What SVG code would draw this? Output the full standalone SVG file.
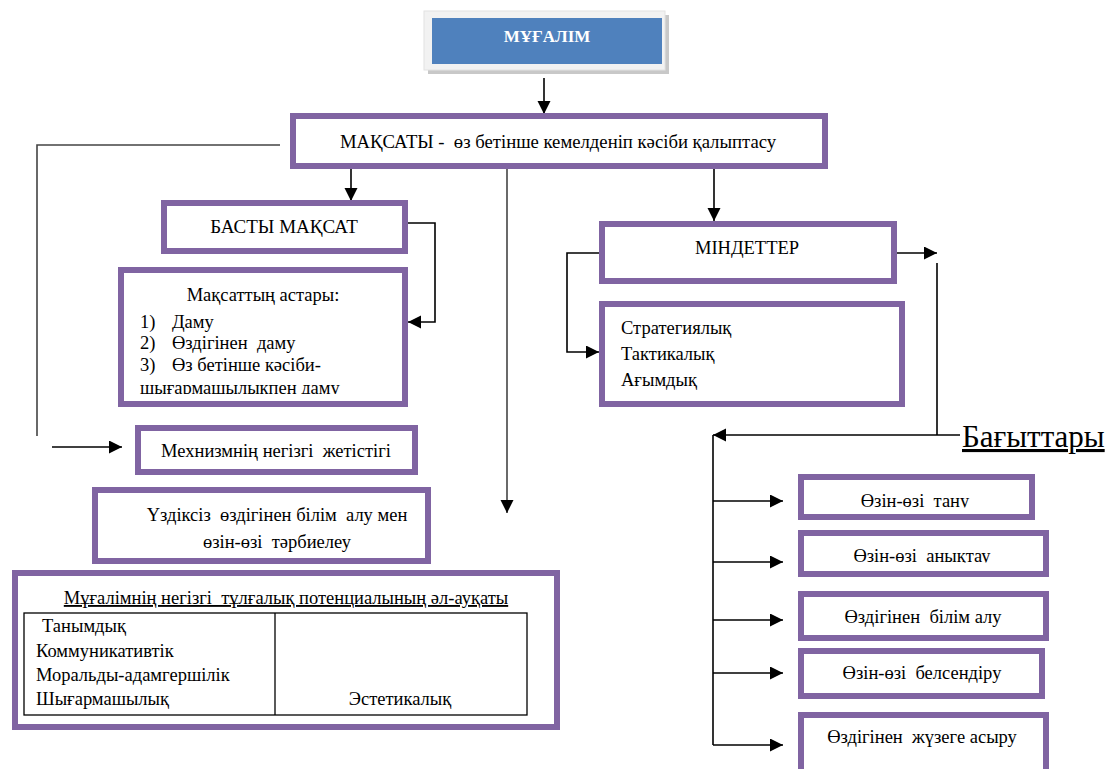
<svg xmlns="http://www.w3.org/2000/svg" width="1110" height="769" viewBox="0 0 1110 769" xml:space="preserve">
<style>
.bg{fill:#ffffff}
.box{fill:#ffffff;stroke:#8064a2;stroke-width:6}
.t{font-family:"Liberation Serif","DejaVu Serif",serif;font-size:18.5px;fill:#000000;white-space:pre}
.c{text-anchor:middle}
.ln{fill:none;stroke:#000000;stroke-width:1.6}
.lg{fill:none;stroke:#444444;stroke-width:1.6}
.arr{marker-end:url(#ah)}
.tbl{fill:none;stroke:#000000;stroke-width:1.3}
</style>
<defs>
<marker id="ah" markerUnits="userSpaceOnUse" markerWidth="14" markerHeight="14" refX="13" refY="6.5" orient="auto">
<path d="M0,0 L13,6.5 L0,13 z" fill="#000000"/>
</marker>
<clipPath id="clip1"><rect x="800" y="480" width="240" height="27.5"/></clipPath>
<clipPath id="clip2"><rect x="800" y="535" width="250" height="27.5"/></clipPath>
<clipPath id="clip3"><rect x="120" y="375" width="290" height="19"/></clipPath>
</defs>
<rect class="bg" x="0" y="0" width="1110" height="769"/>

<g id="connectors">
<path class="ln arr" d="M544,78 L544,114"/>
<path class="lg" d="M280,145 L37,145 L37,436"/>
<path class="ln arr" d="M52,447 L122,447"/>
<path class="ln arr" d="M351,169 L351,201"/>
<path class="lg arr" d="M507,169 L507,513"/>
<path class="ln arr" d="M714,169 L714,221"/>
<path class="ln arr" d="M408,223 L435,223 L435,322 L408,322"/>
<path class="ln arr" d="M599,253 L567,253 L567,352 L599,352"/>
<path class="ln arr" d="M897,253 L937,253"/>
<path class="ln" d="M937,263 L937,435"/>
<path class="ln arr" d="M960,435 L713,435"/>
<path class="ln" d="M713,435 L713,745"/>
<path class="ln arr" d="M713,501 L783,501"/>
<path class="ln arr" d="M713,562 L783,562"/>
<path class="ln arr" d="M713,620 L783,620"/>
<path class="ln arr" d="M713,673 L783,673"/>
<path class="ln arr" d="M713,745 L783,745"/>
</g>

<g id="node-mugalim">
<rect x="428" y="15" width="241" height="59" fill="#c8c8c8"/>
<rect x="424" y="11" width="241" height="59" fill="#f2f2f2" stroke="#e2e2e2" stroke-width="1"/>
<rect x="432" y="18" width="230" height="46" fill="#4f81bd"/>
<text class="t c" x="547" y="42" style="font-weight:bold;fill:#ffffff;font-size:17px">МҰҒАЛІМ</text>
</g>

<g id="node-maksaty">
<rect class="box" x="293" y="116" width="532" height="50"/>
<text class="t c" x="558" y="148" style="font-size:18.7px">МАҚСАТЫ -  өз бетінше кемелденіп кәсіби қалыптасу</text>
</g>

<g id="node-basty">
<rect class="box" x="164" y="203" width="241" height="48"/>
<text class="t c" x="284" y="233" style="font-size:19px">БАСТЫ МАҚСАТ</text>
</g>

<g id="node-astary">
<rect class="box" x="121" y="270" width="284" height="134"/>
<text class="t c" x="263" y="301">Мақсаттың астары:</text>
<text class="t" x="140" y="328">1)</text>
<text class="t" x="172" y="328">Даму</text>
<text class="t" x="140" y="349">2)</text>
<text class="t" x="172" y="349">Өздігінен  даму</text>
<text class="t" x="140" y="371">3)</text>
<text class="t" x="172" y="371">Өз бетінше кәсіби-</text>
<text class="t" x="140" y="393.5" clip-path="url(#clip3)">шығармашылықпен даму</text>
</g>

<g id="node-mehanizm">
<rect class="box" x="138" y="428" width="277" height="44"/>
<text class="t c" x="276" y="457">Мехнизмнің негізгі  жетістігі</text>
</g>

<g id="node-uzdiksiz">
<rect class="box" x="95" y="490" width="333" height="71"/>
<text class="t c" x="277" y="521">Үздіксіз  өздігінен білім  алу мен</text>
<text class="t c" x="277" y="548">өзін-өзі  тәрбиелеу</text>
</g>

<g id="node-potencial">
<rect class="box" x="15" y="573" width="542" height="154"/>
<text class="t c" x="286" y="604" style="text-decoration:underline">Мұғалімнің негізгі  тұлғалық потенциалының әл-ауқаты</text>
<rect class="tbl" x="24" y="613" width="503" height="102"/>
<line class="tbl" x1="275" y1="613" x2="275" y2="715"/>
<text class="t" x="42" y="632">Танымдық</text>
<text class="t" x="36" y="657">Коммуникативтік</text>
<text class="t" x="36" y="681">Моральды-адамгершілік</text>
<text class="t" x="36" y="705">Шығармашылық</text>
<text class="t c" x="400" y="705">Эстетикалық</text>
</g>

<g id="node-mindetter">
<rect class="box" x="602" y="224" width="292" height="57"/>
<text class="t c" x="747" y="254">МІНДЕТТЕР</text>
</g>

<g id="node-strategy">
<rect class="box" x="602" y="304" width="300" height="100"/>
<text class="t" x="621" y="334">Стратегиялық</text>
<text class="t" x="621" y="360">Тактикалық</text>
<text class="t" x="621" y="386">Ағымдық</text>
</g>

<g id="label-bagyttary">
<text class="t" x="962" y="447" style="font-size:31px;text-decoration:underline">Бағыттары</text>
</g>

<g id="node-tanu">
<rect class="box" x="801" y="477" width="231" height="40"/>
<text class="t c" x="915" y="507" clip-path="url(#clip1)">Өзін-өзі  тану</text>
</g>

<g id="node-anyktau">
<rect class="box" x="801" y="533" width="245" height="41"/>
<text class="t c" x="922" y="562" clip-path="url(#clip2)">Өзін-өзі  анықтау</text>
</g>

<g id="node-bilim">
<rect class="box" x="801" y="594" width="245" height="44"/>
<text class="t c" x="923" y="623">Өздігінен  білім алу</text>
</g>

<g id="node-belsendiru">
<rect class="box" x="801" y="651" width="241" height="45"/>
<text class="t c" x="922" y="679">Өзін-өзі  белсендіру</text>
</g>

<g id="node-juzege">
<rect class="box" x="801" y="715" width="245" height="70"/>
<text class="t c" x="922" y="743">Өздігінен  жүзеге асыру</text>
</g>
</svg>
